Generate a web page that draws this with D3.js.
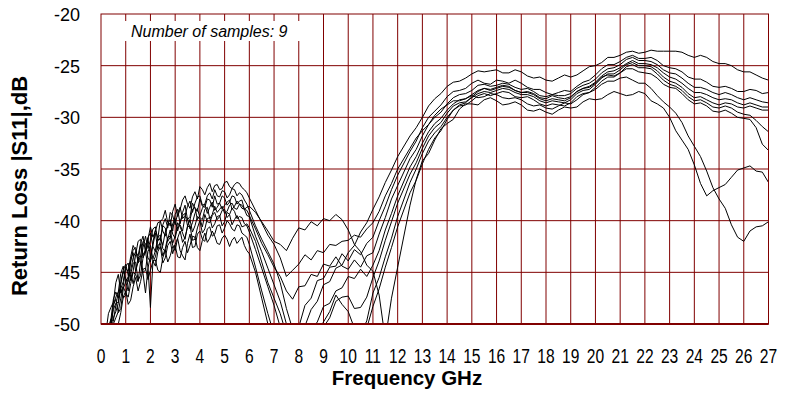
<!DOCTYPE html>
<html>
<head>
<meta charset="utf-8">
<script src="https://cdn.jsdelivr.net/npm/d3@7"></script>
<style>
  body { margin: 0; background: #fff; }
  svg { display: block; }
</style>
</head>
<body>
<svg width="786" height="397"></svg>
<script>
// frequency points, GHz
let freq = [0.2, 0.3, 0.4, 0.5, 0.6, 0.7, 0.8, 0.9, 1.0, 1.1, 1.2, 1.3, 1.4, 1.5, 1.6, 1.7, 1.8, 1.9, 2.0, 2.1, 2.2, 2.3, 2.4, 2.5, 2.6, 2.7, 2.8, 2.9, 3.0,
  3.1, 3.2, 3.3, 3.4, 3.5, 3.6, 3.7, 3.8, 3.9, 4.0, 4.1, 4.2, 4.3, 4.4, 4.5, 4.6, 4.7, 4.8, 4.9, 5.0, 5.1, 5.2, 5.3, 5.4, 5.5, 5.6, 5.7, 5.8, 5.9, 6.0,
  6.25, 6.5, 6.75, 7, 7.25, 7.5, 7.75, 8, 8.25, 8.5, 8.75, 9, 9.25, 9.5, 9.75, 10, 10.25, 10.5, 10.75, 11, 11.25, 11.5, 11.75, 12,
  12.5, 12.75, 13, 13.25, 13.5, 13.75, 14, 14.25, 14.5, 14.75, 15, 15.25, 15.5, 15.75, 16, 16.25, 16.5, 16.75, 17, 17.25, 17.5, 17.75, 18, 18.25, 18.5, 18.75, 19, 19.25, 19.5,
  19.75, 20, 20.25, 20.5, 20.75, 21, 21.25, 21.5, 21.75, 22, 22.25, 22.5, 22.75, 23, 23.25, 23.5, 23.75, 24, 24.25, 24.5, 24.75, 25, 25.25, 25.5, 25.75, 26, 26.25, 26.5, 26.75, 27];

// return loss per sample, dB
let s1 = [-52, -51.5, -50.2, -48.6, -48.0, -47.9, -46.2, -44.9, -45.6, -45.9, -43.8, -43.1, -44.9, -44.0, -42.3, -43.6, -42.8, -41.6, -41.2, -42.5, -43.0, -41.9, -41.6, -42.4, -41.1, -40.5, -40.2, -41.3, -41.7,
  -40.6, -40.4, -41.0, -39.6, -39.8, -40.8, -40.2, -39.3, -38.8, -39.7, -39.9, -38.9, -38.7, -39.8, -39.4, -38.6, -39.2, -38.9, -38.6, -39.3, -39.1, -38.5, -38.3, -38.8, -38.9, -38.4, -38.5, -38.9, -38.7, -38.6,
  -39.2, -40.1, -41.0, -42.0, -42.3, -42.9, -41.7, -40.7, -40.9, -40.1, -40.5, -39.8, -40.0, -39.4, -39.9, -40.9, -42.3, -43.0, -44.3, -44.9, -47.2, -51.5, -47.5, -44.5,
  -38.5, -36.0, -34.2, -33.5, -32.2, -31.1, -30.6, -30.2, -29.2, -28.7, -28.7, -28.8, -28.3, -28.1, -28.4, -28.8, -28.7, -28.5, -28.8, -29.3, -29.4, -29.2, -29.5, -29.7, -29.3, -29.0, -29.1, -29.0, -28.5,
  -28.2, -28.3, -28.2, -27.8, -27.5, -27.7, -27.9, -27.8, -27.5, -27.7, -28.4, -28.7, -29.1, -30.0, -31.3, -32.2, -33.1, -34.6, -36.4, -37.6, -37.1, -36.8, -36.5, -35.8, -35.1, -34.9, -34.7, -35.2, -35.3, -36.3];
let s2 = [-51.5, -50.8, -49.6, -47.6, -46.9, -47.5, -45.9, -44.8, -44.2, -45.3, -44.8, -43.6, -43.0, -43.4, -42.2, -41.5, -43.1, -41.8, -40.6, -41.6, -41.0, -40.2, -40.1, -39.8, -39.0, -40.2, -40.5, -39.1, -38.4,
  -39.6, -38.9, -38.0, -37.6, -38.4, -38.8, -37.7, -37.2, -37.9, -36.7, -37.0, -37.5, -36.8, -36.4, -37.2, -36.6, -36.5, -37.0, -36.9, -36.3, -36.2, -36.7, -36.9, -36.5, -36.3, -36.4, -36.8, -37.0, -37.3, -37.8,
  -39.0, -40.2, -41.4, -42.3, -43.6, -45.4, -44.8, -44.2, -43.3, -43.8, -42.9, -43.1, -42.3, -42.4, -42.0, -41.9, -41.4, -41.6, -40.8, -40.2, -39.1, -37.6, -36.4, -35.0,
  -33.0, -32.0, -31.3, -30.7, -29.8, -29.2, -28.8, -28.4, -28.4, -28.2, -27.9, -28.1, -28.0, -27.7, -27.8, -28.1, -28.2, -28.1, -28.3, -28.7, -28.9, -28.8, -29.1, -29.2, -28.9, -28.6, -28.7, -28.3, -27.8,
  -27.6, -27.3, -26.8, -26.5, -26.5, -26.2, -26.1, -26.4, -26.7, -26.7, -27.2, -27.9, -28.5, -29.0, -29.6, -30.5, -31.8, -32.8, -33.8, -35.2, -36.8, -37.9, -38.8, -40.4, -41.6, -42.0, -41.0, -40.6, -40.5, -40.1];
let s3 = [-50.8, -49.0, -48.4, -47.9, -46.0, -45.2, -47.0, -46.3, -44.6, -44.9, -43.5, -42.4, -42.9, -43.8, -44.0, -42.6, -41.5, -42.7, -41.9, -40.8, -40.6, -41.9, -41.8, -40.4, -39.8, -40.7, -39.2, -39.5, -40.4,
  -39.3, -38.7, -39.8, -39.5, -38.6, -38.1, -39.2, -38.3, -37.7, -37.6, -38.5, -38.4, -37.6, -37.3, -37.9, -37.0, -37.6, -37.7, -37.1, -37.2, -37.8, -37.5, -36.9, -37.0, -37.6, -37.3, -37.5, -38.0, -38.4, -39.0,
  -40.5, -41.8, -43.0, -44.2, -46.0, -48.5, -50.5, -51.5, -50.2, -48.6, -47.8, -46.2, -45.9, -44.6, -44.3, -43.1, -42.4, -41.1, -40.2, -38.9, -37.7, -36.3, -35.1, -33.8,
  -31.8, -31.0, -30.0, -28.9, -28.2, -27.7, -27.0, -26.6, -26.5, -26.2, -25.8, -25.5, -25.6, -25.5, -25.4, -25.7, -25.7, -25.4, -25.6, -26.0, -26.2, -26.1, -26.4, -26.5, -26.2, -25.9, -26.1, -25.9, -25.5,
  -25.1, -25.0, -24.7, -24.2, -24.2, -24.0, -23.7, -23.6, -23.8, -23.7, -23.5, -23.6, -23.6, -23.6, -23.6, -23.7, -24.0, -24.2, -24.0, -24.2, -24.6, -24.8, -24.8, -25.0, -25.4, -25.6, -25.6, -25.9, -26.2, -26.4];
let s4 = [-51.2, -51.6, -50.3, -48.1, -47.4, -46.9, -45.1, -44.4, -46.0, -45.4, -44.0, -42.8, -42.6, -44.1, -43.4, -42.0, -42.2, -43.6, -44.0, -42.1, -40.9, -41.7, -40.0, -41.0, -41.5, -40.3, -39.9, -41.0, -39.4,
  -38.9, -40.3, -39.2, -38.5, -39.9, -39.6, -38.3, -38.8, -39.1, -37.9, -38.6, -38.7, -37.9, -38.0, -38.7, -37.6, -38.4, -38.3, -37.6, -37.8, -38.5, -38.2, -37.6, -37.7, -38.4, -38.1, -38.0, -38.9, -39.5, -39.6,
  -41.5, -43.0, -44.6, -46.2, -47.8, -50.0, -51.5, -50.3, -48.2, -47.5, -45.8, -45.6, -44.5, -44.4, -43.2, -43.9, -42.8, -43.3, -42.2, -41.6, -40.0, -38.6, -37.0, -35.6,
  -33.3, -32.3, -31.0, -30.0, -29.4, -28.8, -28.0, -27.5, -27.4, -27.2, -26.7, -26.4, -26.7, -26.8, -26.4, -26.5, -26.7, -26.4, -26.7, -27.1, -27.3, -27.3, -27.6, -27.8, -27.6, -27.4, -27.5, -27.0, -26.6,
  -26.4, -25.9, -25.3, -24.9, -24.9, -24.6, -24.2, -24.0, -24.3, -24.3, -24.2, -24.5, -25.0, -25.2, -25.3, -25.6, -26.1, -26.3, -26.3, -26.6, -27.0, -27.1, -27.0, -27.2, -27.5, -27.5, -27.3, -27.4, -27.7, -27.6];
let s5 = [-52.5, -50.4, -49.5, -49.7, -48.2, -46.9, -46.6, -45.9, -44.4, -44.1, -45.8, -44.9, -43.3, -42.0, -41.8, -43.3, -42.9, -41.7, -43.6, -42.4, -41.2, -42.8, -42.0, -40.5, -40.7, -42.0, -41.6, -40.3, -39.8,
  -41.0, -40.1, -39.5, -39.3, -40.5, -39.9, -38.9, -38.7, -39.9, -39.5, -38.8, -38.4, -39.3, -38.7, -38.2, -39.0, -38.7, -38.3, -38.9, -38.5, -38.2, -38.0, -38.9, -38.6, -38.1, -38.4, -38.8, -38.9, -39.0, -39.5,
  -40.8, -42.2, -43.3, -44.5, -45.4, -46.8, -47.6, -46.4, -46.3, -45.2, -45.4, -44.2, -44.4, -43.5, -44.4, -44.7, -43.8, -44.5, -43.4, -43.1, -41.3, -39.7, -37.9, -36.6,
  -34.0, -33.1, -31.8, -30.7, -30.0, -29.5, -28.7, -28.1, -27.8, -27.7, -27.4, -26.9, -26.8, -27.0, -26.9, -26.7, -26.8, -27.1, -27.3, -27.2, -27.5, -27.9, -28.0, -27.8, -27.9, -27.9, -27.7, -27.2, -26.9,
  -26.7, -26.3, -25.7, -25.3, -25.2, -24.9, -24.4, -24.2, -24.5, -24.5, -24.6, -24.9, -25.4, -25.7, -25.8, -26.2, -26.7, -27.1, -27.1, -27.3, -27.6, -27.8, -27.6, -27.8, -28.1, -28.3, -28.1, -28.3, -28.5, -28.6];
let s6 = [-53, -52.4, -51.3, -49.4, -48.8, -48.0, -46.6, -47.5, -47.2, -45.6, -45.0, -46.1, -44.9, -43.6, -43.4, -45.0, -44.8, -43.0, -42.4, -43.7, -42.9, -41.6, -41.4, -42.7, -43.0, -41.8, -40.9, -42.2, -41.5,
  -40.2, -40.6, -41.2, -41.8, -40.5, -39.9, -41.1, -40.5, -39.6, -39.8, -40.6, -39.4, -40.1, -40.2, -39.5, -39.2, -39.9, -39.6, -39.0, -38.9, -39.7, -39.4, -38.8, -39.1, -39.8, -39.6, -39.7, -40.3, -40.5, -41.1,
  -42.8, -44.6, -46.4, -48.2, -50.3, -52, -53, -53, -52, -50.6, -49.8, -48.3, -48.0, -46.8, -46.5, -45.4, -45.6, -44.7, -45.4, -44.3, -42.9, -40.9, -39.3, -37.6,
  -34.8, -33.8, -32.5, -31.4, -30.6, -30.1, -29.3, -28.7, -28.3, -28.2, -27.8, -27.4, -27.2, -27.4, -27.2, -27.0, -27.1, -27.4, -27.6, -27.6, -27.8, -28.2, -28.4, -28.2, -28.3, -28.4, -28.1, -27.5, -27.2,
  -27.0, -26.6, -26.0, -25.6, -25.5, -25.2, -24.8, -24.5, -24.8, -24.8, -24.9, -25.2, -25.7, -26.1, -26.3, -26.7, -27.2, -27.6, -27.6, -27.8, -28.1, -28.3, -28.2, -28.3, -28.6, -28.8, -28.6, -28.8, -29.0, -29.0];
let s7 = [-52.2, -51.8, -50.0, -48.2, -47.6, -48.9, -48.5, -46.6, -45.9, -46.8, -45.2, -44.1, -44.0, -45.8, -45.3, -43.6, -43.0, -44.5, -48.4, -44.0, -43.5, -42.4, -42.2, -43.4, -42.7, -41.6, -41.5, -42.4, -42.9,
  -41.7, -41.0, -42.1, -41.6, -40.6, -40.5, -41.9, -41.8, -40.7, -40.0, -41.2, -40.8, -39.8, -39.7, -40.7, -40.3, -39.6, -39.5, -40.5, -40.1, -39.2, -39.4, -40.4, -39.9, -39.5, -40.0, -40.6, -40.5, -40.3, -40.7,
  -42.0, -44.0, -46.0, -47.5, -49.0, -51, -52, -52, -52, -51.3, -51.4, -50.3, -49.4, -47.8, -47.4, -47.3, -48.5, -48.4, -47.4, -45.5, -43.9, -41.9, -40.1, -38.3,
  -35.5, -34.4, -33.0, -31.8, -31.0, -30.5, -29.6, -28.9, -28.6, -28.5, -28.1, -27.7, -27.5, -27.6, -27.4, -27.2, -27.3, -27.6, -27.8, -27.8, -28.0, -28.4, -28.6, -28.4, -28.5, -28.6, -28.3, -27.7, -27.4,
  -27.3, -26.8, -26.2, -25.8, -25.8, -25.4, -24.9, -24.7, -25.0, -25.0, -25.1, -25.5, -26.1, -26.5, -26.7, -27.1, -27.7, -28.1, -28.0, -28.3, -28.6, -28.8, -28.6, -28.7, -29.0, -29.1, -28.9, -29.1, -29.3, -29.3];
let s8 = [-53, -52.6, -51.8, -50.0, -49.4, -48.8, -47.5, -46.4, -47.0, -47.4, -46.1, -45.0, -45.2, -45.9, -44.0, -45.1, -47.0, -44.6, -43.4, -43.9, -44.4, -43.0, -42.5, -44.1, -43.6, -42.4, -42.0, -43.2, -42.3,
  -41.7, -42.9, -43.4, -43.8, -42.2, -41.3, -42.6, -42.5, -41.3, -41.0, -41.8, -42.0, -40.8, -40.6, -41.5, -41.3, -40.5, -40.4, -41.2, -40.7, -40.0, -40.3, -40.8, -41.0, -40.4, -40.5, -41.2, -41.4, -41.6, -42.3,
  -44.5, -46.8, -49.0, -51.0, -52.5, -53, -53, -53, -52.5, -51.3, -50.8, -49.8, -48.8, -47.2, -48.1, -48.8, -50.4, -51.0, -49.7, -47.0, -45.5, -43.5, -41.7, -39.6,
  -36.3, -35.0, -33.5, -32.3, -31.5, -30.9, -30.0, -29.3, -28.9, -28.8, -28.4, -27.9, -27.7, -27.9, -27.7, -27.5, -27.6, -28.0, -28.1, -28.0, -28.3, -28.7, -28.9, -28.7, -28.8, -28.9, -28.6, -28.0, -27.7,
  -27.6, -27.1, -26.5, -26.1, -26.1, -25.7, -25.1, -24.9, -25.2, -25.2, -25.3, -25.8, -26.4, -26.8, -27.0, -27.4, -28.0, -28.4, -28.3, -28.6, -29.0, -29.1, -28.9, -29.1, -29.5, -29.7, -29.8, -30.3, -30.9, -31.4];
let s9 = [-54, -53.5, -52.3, -50.8, -50.2, -50.0, -48.9, -47.4, -46.8, -48.1, -47.7, -46.4, -45.5, -46.8, -45.9, -44.7, -44.6, -45.7, -44.8, -43.9, -43.8, -44.8, -45.0, -43.6, -42.9, -44.0, -43.4, -42.5, -42.4,
  -43.5, -43.6, -42.6, -42.0, -43.1, -42.4, -41.5, -41.6, -42.6, -42.9, -41.9, -41.2, -42.1, -41.7, -41.0, -41.5, -42.2, -42.3, -41.7, -41.4, -41.8, -42.5, -41.9, -41.6, -42.2, -41.9, -41.6, -42.4, -42.9, -43.2,
  -45.0, -47.5, -50.0, -52, -53, -53, -53, -53, -53, -53, -52.5, -51.8, -51.4, -50.3, -50.2, -50.8, -51.8, -52.0, -50.4, -48.3, -46.6, -44.5, -42.6, -40.6,
  -37.3, -36.1, -34.5, -33.1, -32.0, -31.3, -30.2, -29.3, -28.8, -28.6, -28.0, -27.5, -27.2, -27.3, -27.1, -26.9, -27.0, -27.4, -27.6, -27.5, -27.7, -28.1, -28.2, -27.9, -28.1, -28.2, -28.0, -27.5, -27.2,
  -27.1, -26.7, -26.1, -25.9, -26.0, -25.7, -25.3, -25.3, -25.6, -25.7, -25.8, -26.2, -26.8, -27.1, -27.2, -27.7, -28.3, -28.7, -28.6, -28.9, -29.4, -29.5, -29.3, -29.6, -30.0, -30.1, -30.2, -31.0, -32.6, -33.2];

let samples = [s1, s2, s3, s4, s5, s6, s7, s8, s9];
let xTicks = d3.range(0, 28);
let yTicks = [-20, -25, -30, -35, -40, -45, -50];

let plotLeft = 101, plotRight = 768.5, plotTop = 14, plotBottom = 324;
let x = d3.scaleLinear().domain([0, 27]).range([plotLeft, plotRight]);
let y = d3.scaleLinear().domain([-50, -20]).range([plotBottom, plotTop]);
let gridColor = '#800000';

let svg = d3.select('svg');

svg.append('defs').append('clipPath').attr('id', 'plot')
  .append('rect')
  .attr('x', plotLeft).attr('y', plotTop)
  .attr('width', plotRight - plotLeft).attr('height', plotBottom - plotTop);

// grid
svg.append('g').selectAll('line')
  .data(xTicks.slice(1, -1))
  .join('line')
  .attr('x1', d => x(d)).attr('x2', d => x(d))
  .attr('y1', plotTop).attr('y2', plotBottom)
  .attr('stroke', gridColor).attr('stroke-width', 1);

svg.append('g').selectAll('line')
  .data(yTicks.slice(1, -1))
  .join('line')
  .attr('x1', plotLeft).attr('x2', plotRight)
  .attr('y1', d => y(d)).attr('y2', d => y(d))
  .attr('stroke', gridColor).attr('stroke-width', 1);

// curves
let line = d3.line()
  .x((d, i) => x(freq[i]))
  .y(d => y(d));

svg.append('g').attr('clip-path', 'url(#plot)')
  .selectAll('path')
  .data(samples)
  .join('path')
  .attr('d', line)
  .attr('fill', 'none')
  .attr('stroke', '#000')
  .attr('stroke-width', 1)
  .attr('stroke-linejoin', 'round');

// frame
svg.append('rect')
  .attr('x', plotLeft).attr('y', plotTop)
  .attr('width', plotRight - plotLeft).attr('height', plotBottom - plotTop)
  .attr('fill', 'none').attr('stroke', gridColor).attr('stroke-width', 1);
svg.append('line')
  .attr('x1', plotLeft).attr('x2', plotRight)
  .attr('y1', plotBottom).attr('y2', plotBottom)
  .attr('stroke', gridColor).attr('stroke-width', 2);

// note box
svg.append('rect')
  .attr('x', 112).attr('y', 21).attr('width', 193).attr('height', 20)
  .attr('fill', '#fff');
svg.append('text')
  .attr('x', 131).attr('y', 36.5)
  .style('font', 'italic 16px "Liberation Sans", Arial, sans-serif')
  .text('Number of samples: 9');

// y tick labels
svg.append('g').selectAll('text')
  .data(yTicks)
  .join('text')
  .attr('x', 80).attr('y', d => y(d) + 7)
  .attr('text-anchor', 'end')
  .style('font', '18px "Liberation Sans", Arial, sans-serif')
  .text(d => String(d));

// x tick labels (narrow face)
svg.append('g').selectAll('text')
  .data(xTicks)
  .join('text')
  .attr('transform', d => 'translate(' + x(d) + ',362.5) scale(0.8,1)')
  .attr('text-anchor', 'middle')
  .style('font', '19.5px "Liberation Sans", Arial, sans-serif')
  .text(d => String(d));

// axis titles
svg.append('text')
  .attr('x', 407).attr('y', 385)
  .attr('text-anchor', 'middle')
  .style('font', 'bold 20.5px "Liberation Sans", Arial, sans-serif')
  .text('Frequency GHz');

svg.append('text')
  .attr('transform', 'translate(27,186) rotate(-90)')
  .attr('text-anchor', 'middle')
  .style('font', 'bold 22px "Liberation Sans", Arial, sans-serif')
  .text('Return Loss |S11|,dB');
</script>
</body>
</html>
